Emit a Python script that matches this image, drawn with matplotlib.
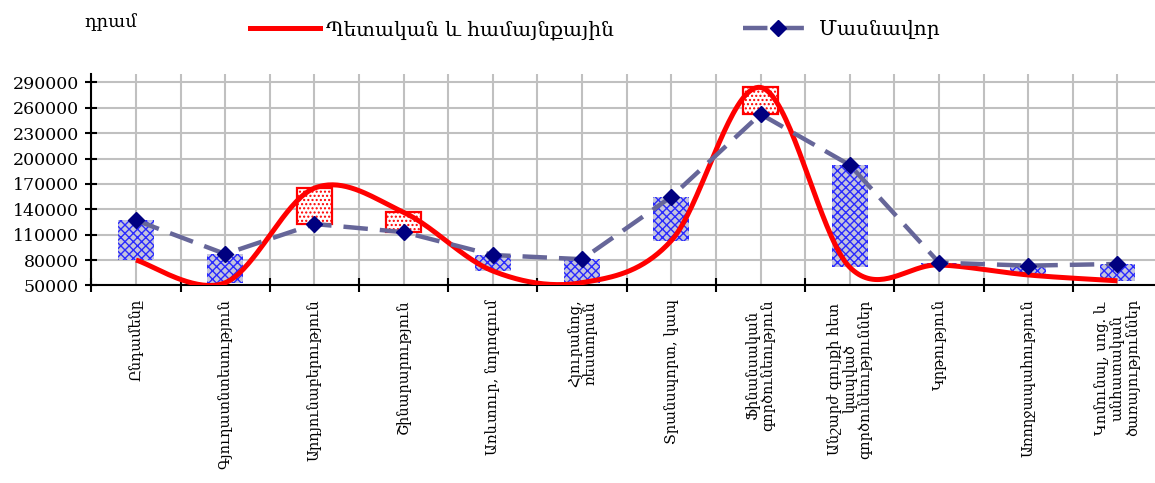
import numpy as np
import matplotlib
matplotlib.use("Agg")
import matplotlib.pyplot as plt
from matplotlib.lines import Line2D

plt.rcParams['font.family'] = ['DejaVu Serif', 'DejaVu Sans']
plt.rcParams['hatch.linewidth'] = 1.0

categories = ['Ընդամենը', 'Գյուղատնտեսություն', 'Արդյունաբերություն',
              'Շինարարություն', 'Առևտուր, նորոգում', 'Հյուրանոց,\nռեստորան',
              'Տրանսպորտ, կապ', 'Ֆինանսական\nգործունեություն',
              'Անշարժ գույքի հետ\nկապված\nգործունեություններ', 'Կրթություն',
              'Առողջապահություն', 'Կոմունալ, սոց. և\nանհատական\nծառայություններ']
state = [80000, 53200, 165000, 136400, 67100, 53300,
         103000, 284000, 71500, 74300, 62400, 55500]
private = [127000, 87200, 122600, 113000, 86000, 81000,
           154800, 252500, 192300, 77000, 73400, 75400]
yticks = list(range(50000, 290001, 30000))
label_state = 'Պետական և համայնքային'
label_private = 'Մասնավոր'
unit = 'դրամ'


def smooth(xs, ys, n=40):
    # excel style smoothed line (catmull-rom as cubic bezier)
    pts = np.column_stack([xs, ys]).astype(float)
    P = np.vstack([pts[0], pts, pts[-1]])
    t = np.linspace(0, 1, n)[:, None]
    out = []
    for i in range(1, len(P) - 2):
        p0, p1, p2, p3 = P[i - 1], P[i], P[i + 1], P[i + 2]
        c1 = p1 + (p2 - p0) / 6
        c2 = p2 - (p3 - p1) / 6
        out.append((1 - t)**3 * p1 + 3 * (1 - t)**2 * t * c1
                   + 3 * (1 - t) * t**2 * c2 + t**3 * p2)
    return np.vstack(out)


x = np.arange(len(categories))
fig = plt.figure(figsize=(11.55, 4.83), dpi=100)
ax = fig.add_axes([0.0791, 0.409, 0.927, 0.438])

# up/down bars
for i in x:
    lo, hi = min(state[i], private[i]), max(state[i], private[i])
    if private[i] >= state[i]:
        ax.bar(i, hi - lo, bottom=lo, width=0.4, facecolor='#c4c4dc',
               edgecolor='#2a2aff', hatch='xxxx', linewidth=0, zorder=2)
    else:
        ax.bar(i, hi - lo, bottom=lo, width=0.4, facecolor='white',
               edgecolor='red', hatch='....', linewidth=1.6, zorder=2)

curve = smooth(x, state)
ax.plot(curve[:, 0], curve[:, 1], color='red', lw=3.6, zorder=3,
        solid_capstyle='butt')
ax.plot(x, private, color='#666699', lw=3.2, dashes=(5.5, 2.7), zorder=4)
ax.plot(x, private, ls='none', marker='D', ms=8, color='#000080', zorder=5)

ax.set_xlim(-0.5, len(categories) - 0.5)
ax.set_ylim(50000, 300000)
ax.set_yticks(yticks)
ax.set_yticklabels([str(v) for v in yticks])
ax.set_xticks(np.arange(-0.5, len(categories), 1))
ax.set_xticklabels([])
ax.set_xticks(x, categories, minor=True)
for lab in ax.get_xticklabels(minor=True):
    lab.set_rotation(90)
    lab.set_va('top')
    lab.set_ha('center')
    lab.set_multialignment('center')
    lab.set_linespacing(1.05)
    lab.set_fontsize(10.5)

ax.tick_params(axis='y', direction='inout', length=8, width=1.5,
               labelsize=12.5, pad=5)
ax.tick_params(axis='x', which='major', direction='inout', length=10, width=1.5)
ax.tick_params(axis='x', which='minor', length=0, pad=10)

ax.grid(True, which='both', axis='x', color='#c0c0c0', lw=1.5, zorder=0)
ax.grid(True, which='major', axis='y', color='#c0c0c0', lw=1.5, zorder=0)
ax.set_axisbelow(True)
for s in ['top', 'right']:
    ax.spines[s].set_visible(False)
for s in ['left', 'bottom']:
    ax.spines[s].set_linewidth(1.5)

handles = [Line2D([], [], color='red', lw=3.6),
           Line2D([], [], color='#666699', lw=3.2, dashes=(5.5, 2.7),
                  marker='D', ms=8, markerfacecolor='#000080',
                  markeredgecolor='#000080')]
fig.legend(handles, [label_state, label_private], loc='center',
           bbox_to_anchor=(0.515, 0.938), ncol=2, frameon=False,
           fontsize=14.5, handlelength=3.5, handletextpad=0.3,
           columnspacing=6.4, numpoints=1)
fig.text(0.073, 0.955, unit, ha='left', va='center', fontsize=13)

fig.savefig('out.png', dpi=100)
